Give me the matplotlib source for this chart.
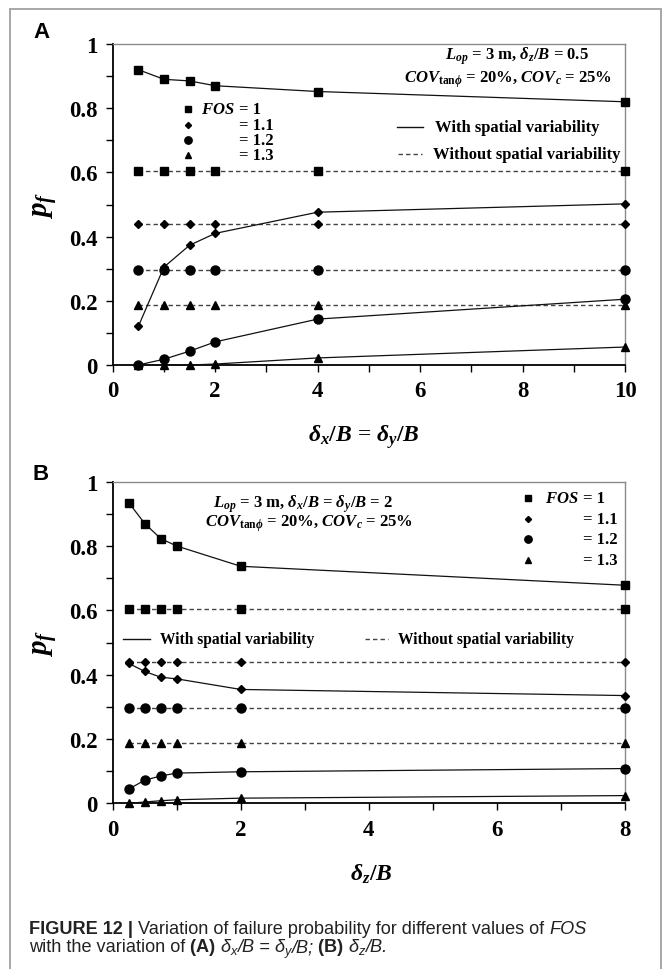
import matplotlib
matplotlib.use("Agg")
import matplotlib.pyplot as plt
from matplotlib.patches import Rectangle

plt.rcParams['mathtext.fontset'] = 'custom'
plt.rcParams['mathtext.rm'] = 'Liberation Serif:bold'
plt.rcParams['mathtext.it'] = 'Liberation Serif:italic:bold'
plt.rcParams['mathtext.bf'] = 'Liberation Serif:bold'
plt.rcParams['font.family'] = ['Liberation Serif', 'DejaVu Serif']
plt.rcParams['font.weight'] = 'bold'

# ---------------- data ----------------
xA = [0.5, 1, 1.5, 2, 4, 10]
A_with_10 = [0.920, 0.890, 0.885, 0.870, 0.852, 0.820]
A_with_11 = [0.120, 0.305, 0.373, 0.410, 0.476, 0.502]
A_with_12 = [0.000, 0.018, 0.043, 0.072, 0.143, 0.205]
A_with_13 = [0.000, 0.000, 0.000, 0.003, 0.022, 0.056]
A_wo_10 = [0.603] * 6
A_wo_11 = [0.440] * 6
A_wo_12 = [0.297] * 6
A_wo_13 = [0.188] * 6

xB = [0.25, 0.5, 0.75, 1, 2, 8]
B_with_10 = [0.935, 0.870, 0.823, 0.800, 0.737, 0.678]
B_with_11 = [0.435, 0.410, 0.392, 0.387, 0.354, 0.335]
B_with_12 = [0.044, 0.072, 0.085, 0.094, 0.098, 0.108]
B_with_13 = [0.000, 0.004, 0.008, 0.011, 0.016, 0.024]
B_wo_10 = [0.603] * 6
B_wo_11 = [0.440] * 6
B_wo_12 = [0.297] * 6
B_wo_13 = [0.188] * 6

fos_values = ["= 1", "= 1.1", "= 1.2", "= 1.3"]
line_labels = ["With spatial variability", "Without spatial variability"]
markers = ['s', 'D', 'o', '^']
msizes = [6, 4.3, 6.5, 6]

W, H = 664, 970
fig = plt.figure(figsize=(W / 100, H / 100), dpi=100)
renderer = fig.canvas.get_renderer()

def fx(px):
    return px / W

def fy(py):
    return 1 - py / H

XL, XR = 112.7, 625.0
axA = fig.add_axes([fx(XL), fy(366), fx(XR) - fx(XL), fy(45) - fy(366)])
axB = fig.add_axes([fx(XL), fy(804.3), fx(XR) - fx(XL), fy(482.7) - fy(804.3)])

DASH = (0, (3.2, 2.2))
LC = '#111111'
DC = '#444444'


def style_axes(ax, xmax):
    ax.set_xlim(0, xmax)
    ax.set_ylim(0, 1)
    ax.set_xticks(range(0, xmax + 1, 2))
    ax.set_xticks(range(1, xmax, 2), minor=True)
    ax.set_yticks([0, 0.2, 0.4, 0.6, 0.8, 1])
    ax.set_yticklabels(['0', '0.2', '0.4', '0.6', '0.8', '1'])
    ax.set_yticks([0.1, 0.3, 0.5, 0.7, 0.9], minor=True)
    ax.tick_params(which='both', direction='out', length=5, width=1.0, color='black')
    ax.tick_params(axis='both', which='major', labelsize=16.5, pad=6)
    for lab in ax.get_xticklabels() + ax.get_yticklabels():
        lab.set_fontweight('bold')
    ax.spines['left'].set_color('black')
    ax.spines['bottom'].set_color('black')
    ax.spines['left'].set_linewidth(1.3)
    ax.spines['bottom'].set_linewidth(1.3)
    ax.spines['top'].set_color('#8a8a8a')
    ax.spines['right'].set_color('#8a8a8a')
    ax.spines['top'].set_linewidth(1.0)
    ax.spines['right'].set_linewidth(1.0)
    ax.set_ylabel(r"$p_f$", fontsize=21)
    ax.yaxis.set_label_coords(-0.104, 0.5)


def draw_series(ax, x, withs, wos):
    for i, (w, wo) in enumerate(zip(withs, wos)):
        ax.plot(x, wo, linestyle=DASH, color=DC, lw=1.0, marker=markers[i],
                ms=msizes[i], mfc='black', mec='black', clip_on=False, zorder=3)
        ax.plot(x, w, linestyle='-', color=LC, lw=0.9, marker=markers[i],
                ms=msizes[i], mfc='black', mec='black', clip_on=False, zorder=4)


style_axes(axA, 10)
style_axes(axB, 8)
draw_series(axA, xA, [A_with_10, A_with_11, A_with_12, A_with_13],
            [A_wo_10, A_wo_11, A_wo_12, A_wo_13])
draw_series(axB, xB, [B_with_10, B_with_11, B_with_12, B_with_13],
            [B_wo_10, B_wo_11, B_wo_12, B_wo_13])

axA.set_xlabel(r"$\delta_x/B$ = $\delta_y/B$", fontsize=17)
axA.xaxis.set_label_coords(0.49, -0.178)
axB.set_xlabel(r"$\delta_z/B$", fontsize=17)
axB.xaxis.set_label_coords(0.505, -0.1825)

# ---- annotations ----
TS = 12
axA.text(0.790, 0.9636, r"$L_{op}$ = 3 m, $\delta_z/B$ = 0.5", transform=axA.transAxes,
         ha='center', va='center', fontsize=TS, fontweight='bold')
axA.text(0.771, 0.893, r"$COV_{\mathrm{tan}\phi}$ = 20%, $COV_c$ = 25%", transform=axA.transAxes,
         ha='center', va='center', fontsize=TS, fontweight='bold')
axB.text(0.372, 0.933, r"$L_{op}$ = 3 m, $\delta_x/B$ = $\delta_y/B$ = 2", transform=axB.transAxes,
         ha='center', va='center', fontsize=TS, fontweight='bold')
axB.text(0.383, 0.874, r"$COV_{\mathrm{tan}\phi}$ = 20%, $COV_c$ = 25%", transform=axB.transAxes,
         ha='center', va='center', fontsize=TS, fontweight='bold')

# ---- marker legends ----
def marker_legend(ax, xm, xt, ys):
    head = ax.text(xt, ys[0], r"$FOS$", transform=ax.transAxes, ha='left', va='center',
                   fontsize=TS, fontweight='bold')
    wpx = head.get_window_extent(renderer=renderer).width + 4.5
    axw = ax.get_window_extent(renderer=renderer).width
    xv = xt + wpx / axw
    for i, yy in enumerate(ys):
        ax.plot([xm], [yy], marker=markers[i], ms=msizes[i] - 1.2, color='black',
                linestyle='none', transform=ax.transAxes, clip_on=False)
        ax.text(xv, yy, fos_values[i], transform=ax.transAxes, ha='left', va='center',
                fontsize=TS, fontweight='bold')

marker_legend(axA, 0.1476, 0.1718, [0.7975, 0.7475, 0.702, 0.655])
marker_legend(axB, 0.811, 0.844, [0.948, 0.884, 0.822, 0.758])

# ---- line legends ----
def line_legend(ax, x0, x1, xt, yy, ls, label, fs):
    ax.plot([x0, x1], [yy, yy], linestyle=ls, color=LC if ls == '-' else DC, lw=1.0,
            transform=ax.transAxes, clip_on=False)
    ax.text(xt, yy, label, transform=ax.transAxes, ha='left', va='center',
            fontsize=fs, fontweight='bold')

line_legend(axA, 0.554, 0.606, 0.629, 0.740, '-', line_labels[0], TS)
line_legend(axA, 0.557, 0.603, 0.626, 0.657, DASH, line_labels[1], TS)
line_legend(axB, 0.0207, 0.0728, 0.0923, 0.511, '-', line_labels[0], 11.2)
line_legend(axB, 0.492, 0.538, 0.5575, 0.511, DASH, line_labels[1], 11.2)

# ---- panel letters ----
fig.text(fx(33), fy(33), "A", fontsize=16, fontweight='bold', family=['Liberation Sans'],
         ha='left', va='center')
fig.text(fx(33), fy(474), "B", fontsize=16, fontweight='bold', family=['Liberation Sans'],
         ha='left', va='center')

# ---- border ----
fig.patches.append(Rectangle((fx(10), -0.02), fx(661) - fx(10), fy(10) + 0.02,
                             transform=fig.transFigure, fill=False, ec='#a0a0a0', lw=1.3))

# ---- caption ----
CS = 13.1
SANS = ['Liberation Sans', 'DejaVu Sans']

def caption_line(y, pieces):
    x = fx(29)
    for txt, weight, style, scale, dy in pieces:
        t = fig.text(x, y - dy / H, txt, fontsize=CS * scale, fontweight=weight,
                     fontstyle=style, family=SANS, ha='left', va='center',
                     color='#222222')
        bb = t.get_window_extent(renderer=renderer)
        x += bb.width / W

N, I, B_ = 'normal', 'italic', 'bold'
caption_line(fy(930), [("FIGURE 12 | ", B_, N, 1, 0),
                       ("Variation of failure probability for different values of ", N, N, 1, 0),
                       ("FOS", N, I, 1, 0)])
caption_line(fy(948), [("with the variation of ", N, N, 1, 0),
                       ("(A) ", B_, N, 1, 0),
                       ("\u03b4", N, I, 1, 0), ("x", N, I, 0.7, 4),
                       ("/B = ", N, I, 1, 0),
                       ("\u03b4", N, I, 1, 0), ("y", N, I, 0.7, 4),
                       ("/B; ", N, I, 1, 0),
                       ("(B) ", B_, N, 1, 0),
                       ("\u03b4", N, I, 1, 0), ("z", N, I, 0.7, 4),
                       ("/B.", N, I, 1, 0)])

fig.savefig("out.png", dpi=100)
